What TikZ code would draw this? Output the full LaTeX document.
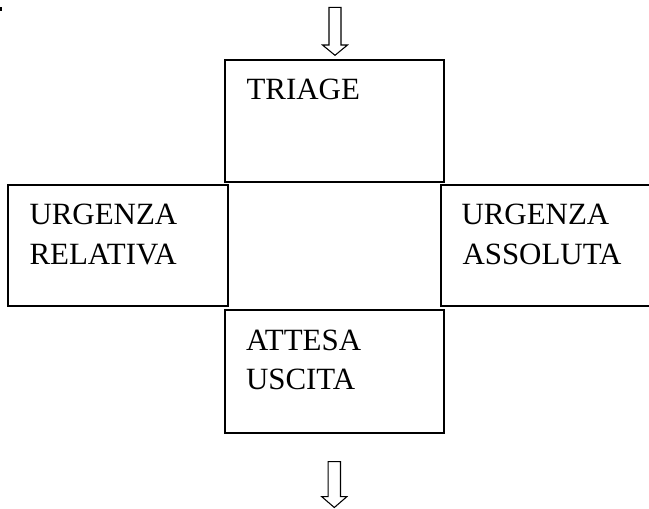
\documentclass[tikz,border=0pt]{standalone}
\usepackage{fontspec}
\setmainfont{Liberation Serif}
\usetikzlibrary{fit}
\begin{document}
\begin{tikzpicture}[x=0.75pt,y=-0.75pt,
  box/.style={draw=black,line width=1.5pt,inner sep=0pt,outer sep=0pt,rectangle},
  lbl/.style={inner sep=0pt,outer sep=0pt,anchor=base west,font=\fontsize{23.2}{27}\selectfont},
  harrow/.style={draw=black,line width=0.8pt,line join=miter,fill=white}]
\useasboundingbox (0,0) rectangle (649,508);
\clip (0,0) rectangle (649,508);
% corner mark
\fill[black] (0,7.3) rectangle (2,10.7);
% boxes
\node[box,fit={(225,59.5) (444,181.5)}] (triage) {};
\node[box,fit={(8.3,185) (227.7,306.3)}] (relativa) {};
\node[box,fit={(441,185) (662,306.3)}] (assoluta) {};
\node[box,fit={(225,309.7) (444,432.7)}] (attesa) {};
% labels
\node[lbl] (t1) at (246.5,99.3) {TRIAGE};
\node[lbl] (r1) at (29.5,224.5) {URGENZA};
\node[lbl] (r2) at (29.5,264.8) {RELATIVA};
\node[lbl] (a1) at (461.5,224.5) {URGENZA};
\node[lbl] (a2) at (462.5,264.8) {ASSOLUTA};
\node[lbl] (u1) at (246,350.7) {ATTESA};
\node[lbl] (u2) at (246,389.3) {USCITA};
% arrows
\coordinate (toptip) at (335,55.3);
\draw[harrow] (toptip) -- ++(-12.5,-10.3) -- ++(6.5,0) -- ++(0,-37.7) -- ++(12,0) -- ++(0,37.7) -- ++(6.5,0) -- cycle;
\coordinate (bottip) at (334.3,507.5);
\draw[harrow] (bottip) -- ++(-12.5,-10.8) -- ++(6.3,0) -- ++(0,-35) -- ++(12.4,0) -- ++(0,35) -- ++(6.3,0) -- cycle;
\end{tikzpicture}
\end{document}
